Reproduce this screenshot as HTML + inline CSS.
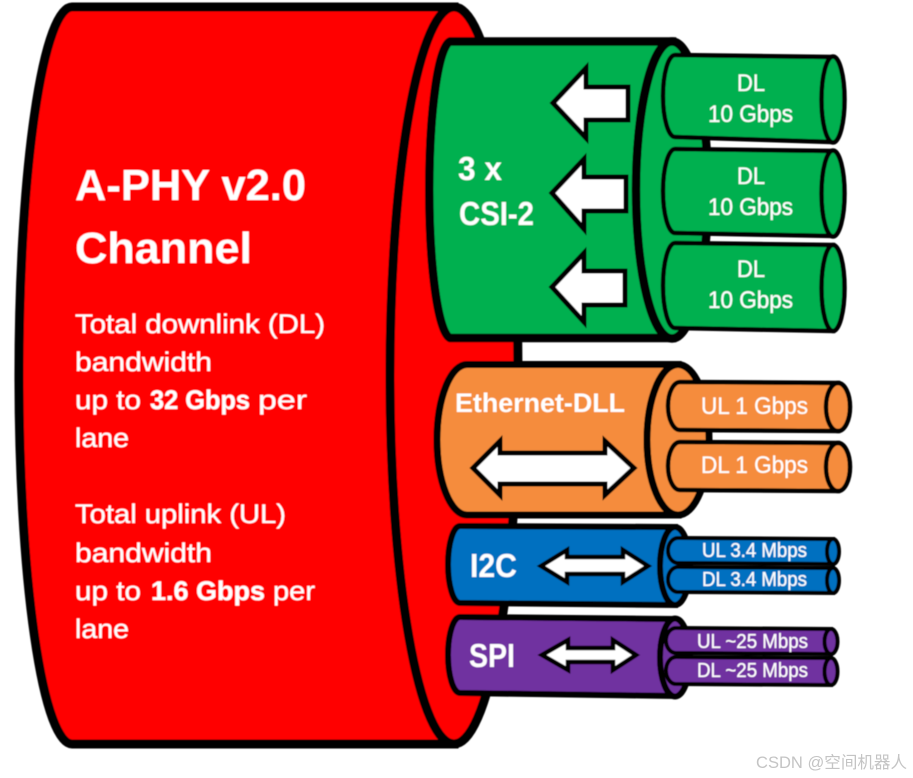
<!DOCTYPE html>
<html><head><meta charset="utf-8"><style>
html,body{margin:0;padding:0;background:#fff;width:913px;height:778px;overflow:hidden}
svg{display:block}
text{font-family:"Liberation Sans",sans-serif;fill:#fff}
.n text{stroke:#fff;stroke-width:.25}
.b{font-weight:bold}
</style></head><body>
<svg width="913" height="778" viewBox="0 0 913 778" xmlns="http://www.w3.org/2000/svg">
<defs><filter id="s" x="-2%" y="-2%" width="104%" height="104%"><feGaussianBlur stdDeviation="0.45"/></filter></defs>
<g filter="url(#s)">
<!-- red main -->
<g fill="#ff0000" stroke="#000" stroke-width="9">
<path d="M454,7 L72,7 A53,368 0 0 0 72,744 L454,744 Z"/>
<ellipse cx="454" cy="375.500" rx="64" ry="368.500"/>
</g>
<!-- green -->
<g fill="#00B050" stroke="#000" stroke-width="8.500">
<path d="M672,41.500 L450,41.500 A22,148.500 0 0 0 450,338 L672,338 Z"/>
<ellipse cx="672" cy="190" rx="36" ry="148.500"/>
</g>
<g fill="#00B050" stroke="#000" stroke-width="4.500">
<path d="M833,57 L675,55 A12,41 0 0 0 675,137 L833,142 Z"/><ellipse cx="833" cy="99.500" rx="11.500" ry="43"/>
<path d="M833,151 L675,149 A12,42 0 0 0 675,233 L833,236 Z"/><ellipse cx="833" cy="193.500" rx="11.500" ry="43"/>
<path d="M833,245 L675,243 A12,42.500 0 0 0 675,328 L833,331 Z"/><ellipse cx="833" cy="288" rx="11.500" ry="43"/>
</g>
<g fill="#fff" stroke="#000" stroke-width="5" stroke-linejoin="miter">
<path d="M553,103 L586,68 L586,87 L628,87 L628,120 L586,120 L586,138 Z"/>
<path d="M552,193 L584,159 L584,177 L626,177 L626,211 L584,211 L584,229 Z"/>
<path d="M552,287 L584,253 L584,271 L625,271 L625,305 L584,305 L584,322 Z"/>
</g>
<!-- orange -->
<g fill="#F58C3C" stroke="#000" stroke-width="7">
<path d="M678,364.500 L467,364.500 A30,75.250 0 0 0 467,515 L678,515 Z"/>
<ellipse cx="678" cy="439.750" rx="31" ry="75.250"/>
</g>
<g fill="#F58C3C" stroke="#000" stroke-width="4.500">
<path d="M838,383 L680,382 A12,24 0 0 0 680,430 L838,431 Z"/><ellipse cx="838" cy="407" rx="12" ry="24"/>
<path d="M838,443 L680,442 A12,24 0 0 0 680,490 L838,491 Z"/><ellipse cx="838" cy="467" rx="12" ry="24"/>
</g>
<path d="M473,468 L500,441 L500,453 L605,453 L605,441 L634,468 L605,495 L605,484 L500,484 L500,495 Z" fill="#fff" stroke="#000" stroke-width="5"/>
<!-- blue -->
<g fill="#0070C0" stroke="#000" stroke-width="6">
<path d="M675,527 L460,526 A12,38.500 0 0 0 460,603 L675,605 Z"/>
<ellipse cx="675" cy="566" rx="15" ry="39"/>
</g>
<g fill="#0070C0" stroke="#000" stroke-width="4">
<path d="M833,539 L678,538 A10,12.500 0 0 0 678,563 L833,564 Z"/><ellipse cx="833" cy="551.500" rx="6" ry="12.500"/>
<path d="M833,568 L678,567 A10,12.500 0 0 0 678,592 L833,593 Z"/><ellipse cx="833" cy="580.500" rx="6" ry="12.500"/>
</g>
<path d="M541,566 L567,550 L567,557 L623,557 L623,550 L648,566 L623,582 L623,574 L567,574 L567,582 Z" fill="#fff" stroke="#000" stroke-width="4.500"/>
<!-- purple -->
<g fill="#7030A0" stroke="#000" stroke-width="6">
<path d="M675,619 L460,617 A12,38 0 0 0 460,693 L675,696 Z"/>
<ellipse cx="675" cy="657.500" rx="15" ry="39"/>
</g>
<g fill="#7030A0" stroke="#000" stroke-width="4">
<path d="M831,629 L676,628 A10,12.500 0 0 0 676,653 L831,654 Z"/><ellipse cx="831" cy="641.500" rx="6.500" ry="12.500"/>
<path d="M831,658 L676,657 A10,13.500 0 0 0 676,684 L831,685 Z"/><ellipse cx="831" cy="671.500" rx="6.500" ry="13.500"/>
</g>
<path d="M542,655 L568,640 L568,648 L613,648 L613,640 L636,655 L613,670 L613,662 L568,662 L568,670 Z" fill="#fff" stroke="#000" stroke-width="4.500"/>
<!-- text -->
<text class="b" x="75" y="200" font-size="44" textLength="231" lengthAdjust="spacingAndGlyphs">A-PHY v2.0</text>
<text class="b" x="75" y="263" font-size="44" textLength="177" lengthAdjust="spacingAndGlyphs">Channel</text>
<g font-size="27" class="n">
<text x="75" y="333" textLength="250" lengthAdjust="spacingAndGlyphs">Total downlink (DL)</text>
<text x="75" y="371" textLength="137" lengthAdjust="spacingAndGlyphs">bandwidth</text>
<text x="75" y="409" textLength="66" lengthAdjust="spacingAndGlyphs">up to</text>
<text class="b" x="150" y="409" textLength="100" lengthAdjust="spacingAndGlyphs">32 Gbps</text>
<text x="258" y="409" textLength="49" lengthAdjust="spacingAndGlyphs">per</text>
<text x="75" y="447" textLength="54" lengthAdjust="spacingAndGlyphs">lane</text>
<text x="75" y="523" textLength="211" lengthAdjust="spacingAndGlyphs">Total uplink (UL)</text>
<text x="75" y="562" textLength="137" lengthAdjust="spacingAndGlyphs">bandwidth</text>
<text x="75" y="600" textLength="66" lengthAdjust="spacingAndGlyphs">up to</text>
<text class="b" x="151" y="600" textLength="114" lengthAdjust="spacingAndGlyphs">1.6 Gbps</text>
<text x="273" y="600" textLength="42" lengthAdjust="spacingAndGlyphs">per</text>
<text x="75" y="638" textLength="54" lengthAdjust="spacingAndGlyphs">lane</text>
</g>
<text class="b" x="458" y="180" font-size="33" textLength="44" lengthAdjust="spacingAndGlyphs">3 x</text>
<text class="b" x="459" y="225" font-size="33" textLength="75" lengthAdjust="spacingAndGlyphs">CSI-2</text>
<g font-size="24" class="n">
<text x="737" y="91" textLength="28" lengthAdjust="spacingAndGlyphs">DL</text>
<text x="708" y="122" textLength="85" lengthAdjust="spacingAndGlyphs">10 Gbps</text>
<text x="737" y="184" textLength="28" lengthAdjust="spacingAndGlyphs">DL</text>
<text x="708" y="215" textLength="85" lengthAdjust="spacingAndGlyphs">10 Gbps</text>
<text x="737" y="277" textLength="28" lengthAdjust="spacingAndGlyphs">DL</text>
<text x="708" y="308" textLength="85" lengthAdjust="spacingAndGlyphs">10 Gbps</text>
<text x="701" y="414" textLength="107" lengthAdjust="spacingAndGlyphs">UL 1 Gbps</text>
<text x="701" y="473" textLength="107" lengthAdjust="spacingAndGlyphs">DL 1 Gbps</text>
</g>
<text class="b" x="455" y="412" font-size="27" textLength="170" lengthAdjust="spacingAndGlyphs">Ethernet-DLL</text>
<text class="b" x="470" y="577" font-size="33" textLength="47" lengthAdjust="spacingAndGlyphs">I2C</text>
<text class="b" x="469" y="667" font-size="33" textLength="46" lengthAdjust="spacingAndGlyphs">SPI</text>
<g font-size="20" class="n">
<text x="702" y="557" textLength="105" lengthAdjust="spacingAndGlyphs">UL 3.4 Mbps</text>
<text x="702" y="586" textLength="105" lengthAdjust="spacingAndGlyphs">DL 3.4 Mbps</text>
<text x="697" y="648" textLength="111" lengthAdjust="spacingAndGlyphs">UL ~25 Mbps</text>
<text x="697" y="677" textLength="111" lengthAdjust="spacingAndGlyphs">DL ~25 Mbps</text>
</g>
</g>
<text x="756" y="768" font-size="16.500" style="fill:#c4c4c4;font-family:'Liberation Sans','Noto Sans CJK SC',sans-serif" textLength="151" lengthAdjust="spacingAndGlyphs">CSDN @空间机器人</text>
</svg>
</body></html>
